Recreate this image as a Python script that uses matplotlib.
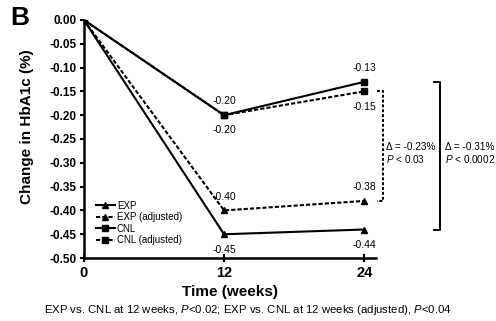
import matplotlib
matplotlib.use("Agg")
import matplotlib.pyplot as plt

plt.rcParams["font.family"] = ["Liberation Sans", "DejaVu Sans"]
plt.rcParams["mathtext.fontset"] = "custom"
plt.rcParams["mathtext.rm"] = "Liberation Sans"
plt.rcParams["mathtext.it"] = "Liberation Sans:italic"

weeks = [0, 12, 24]
exp = [0.0, -0.45, -0.44]
exp_adj = [0.0, -0.40, -0.38]
cnl = [0.0, -0.20, -0.13]
cnl_adj = [0.0, -0.20, -0.15]

y_ticks = [0.0, -0.05, -0.10, -0.15, -0.20, -0.25, -0.30, -0.35, -0.40, -0.45, -0.50]
x_ticks = [0, 12, 24]

# (series, index, vertical offset in points) for the value labels
labels = [
    (cnl, 1, +10), (cnl, 2, +10),
    (cnl_adj, 1, -11), (cnl_adj, 2, -11),
    (exp_adj, 1, +10), (exp_adj, 2, +10),
    (exp, 1, -11), (exp, 2, -11),
]

fig = plt.figure(figsize=(4.96, 3.21), dpi=100)
ax = fig.add_axes([0.169, 0.196, 0.589, 0.742])

ax.plot(weeks, exp, color="black", lw=1.5, marker="^", ms=4.5, label="EXP")
ax.plot(weeks, exp_adj, color="black", lw=1.5, ls=(0, (2, 1)), marker="^",
        ms=4.5, label="EXP (adjusted)")
ax.plot(weeks, cnl, color="black", lw=1.5, marker="s", ms=4, label="CNL")
ax.plot(weeks, cnl_adj, color="black", lw=1.5, ls=(0, (2, 1)), marker="s",
        ms=4, label="CNL (adjusted)")

for series, i, dy in labels:
    ax.annotate(f"{series[i]:.2f}", (weeks[i], series[i]), xytext=(0, dy),
                textcoords="offset points", ha="center", va="center",
                fontsize=7.5)

ax.set_xlim(0, 25)
ax.set_ylim(-0.5, 0.0)
ax.set_yticks(y_ticks)
ax.set_yticklabels([f"{v:.2f}" for v in y_ticks], fontweight="bold", fontsize=8.5)
ax.set_xticks(x_ticks)
ax.set_xticklabels([str(v) for v in x_ticks], fontweight="bold", fontsize=10.5)
ax.tick_params(axis="y", direction="out", length=3, width=1.5, pad=2)
ax.tick_params(axis="x", direction="inout", length=6, width=1.5, pad=3)
for side in ("top", "right"):
    ax.spines[side].set_visible(False)
for side in ("left", "bottom"):
    ax.spines[side].set_linewidth(1.8)

ax.set_xlabel("Time (weeks)", fontweight="bold", fontsize=11, labelpad=3)
ax.set_ylabel("Change in HbA1c (%)", fontweight="bold", fontsize=11)
ax.yaxis.set_label_coords(-0.17, 0.55)

ax.legend(loc="lower left", bbox_to_anchor=(0.02, 0.03), frameon=False,
          fontsize=7, handlelength=2.0, handletextpad=0.2, labelspacing=0.15,
          borderpad=0.1)

# brackets for the 24-week differences
def bracket(x, y0, y1, ls):
    ax.plot([x - 0.5, x, x, x - 0.5], [y0, y0, y1, y1], color="black",
            lw=1.4, ls=ls, clip_on=False)

bracket(25.6, cnl_adj[2], exp_adj[2], (0, (1.5, 1)))
bracket(30.5, cnl[2], exp[2], "-")
ax.text(25.9, -0.28, "\u0394 = -0.23%\n$\\it{P}$ < 0.03", fontsize=7.2,
        va="center", ha="left", linespacing=1.05)
ax.text(30.9, -0.28, "\u0394 = -0.31%\n$\\it{P}$ < 0.0002", fontsize=7.2,
        va="center", ha="left", linespacing=1.05)

fig.text(0.02, 0.98, "B", fontsize=19, fontweight="bold", va="top", ha="left")
fig.text(0.5, 0.035,
         "EXP vs. CNL at 12 weeks, $\\it{P}$<0.02; "
         "EXP vs. CNL at 12 weeks (adjusted), $\\it{P}$<0.04",
         fontsize=8.2, ha="center", va="center")

fig.savefig("out.png", dpi=100)
